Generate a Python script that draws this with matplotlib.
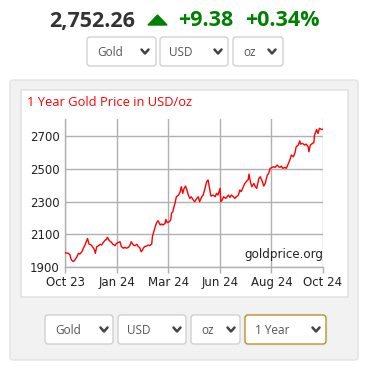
import matplotlib
matplotlib.use("Agg")
import matplotlib.pyplot as plt
from matplotlib.patches import FancyBboxPatch, Polygon
from matplotlib.lines import Line2D
import numpy as np

# ---- data ----
days = [0, 5, 7, 9, 12, 14, 17, 19, 21, 24, 26, 28, 31, 32, 34, 37, 39, 42, 43, 45,
        47, 50, 52, 54, 57, 59, 60, 63, 66, 68, 71, 73, 76, 78, 80, 83, 85, 87, 90, 92,
        94, 97, 99, 102, 104, 106, 108, 110, 111, 113, 116, 118, 120, 123, 124, 126, 128, 130, 132, 135,
        137, 139, 142, 143, 145, 148, 150, 151, 153, 154, 156, 158, 161, 163, 165, 167, 169, 171, 173, 175,
        177, 179, 182, 184, 187, 189, 191, 194, 196, 198, 201, 203, 205, 207, 210, 213, 215, 217, 220, 221,
        223, 225, 228, 230, 232, 234, 236, 239, 241, 243, 246, 248, 250, 253, 255, 257, 260, 261, 263, 265,
        268, 270, 272, 275, 277, 280, 282, 284, 287, 289, 291, 294, 296, 298, 301, 303, 305, 307, 309, 312,
        314, 316, 319, 321, 324, 326, 328, 331, 333, 334, 337, 340, 342, 345, 346, 348, 351, 353, 354, 357,
        359, 361, 364, 366]
price = [1989, 1985, 1975, 1945, 1935, 1945, 1965, 1985, 1981, 1995, 2016, 2032, 2066, 2075, 2042, 2036, 2026, 2005, 1985, 2026,
         2030, 2040, 2036, 2050, 2066, 2070, 2083, 2062, 2052, 2040, 2032, 2046, 2052, 2056, 2026, 2016, 2022, 2016, 2022, 2032,
         2056, 2036, 2032, 2040, 2026, 2020, 1995, 2005, 2016, 2026, 2030, 2036, 2032, 2042, 2087, 2117, 2148, 2172, 2184, 2158,
         2164, 2158, 2168, 2192, 2172, 2178, 2188, 2229, 2239, 2259, 2290, 2330, 2340, 2355, 2391, 2351, 2381, 2395, 2371, 2340,
         2320, 2330, 2310, 2300, 2320, 2330, 2300, 2330, 2340, 2371, 2422, 2432, 2381, 2334, 2340, 2330, 2351, 2340, 2381, 2300,
         2310, 2330, 2320, 2330, 2340, 2326, 2340, 2330, 2320, 2330, 2340, 2371, 2361, 2391, 2411, 2421, 2436, 2468, 2422, 2391,
         2411, 2391, 2381, 2442, 2452, 2422, 2395, 2411, 2462, 2472, 2503, 2509, 2513, 2509, 2523, 2513, 2509, 2517, 2503, 2509,
         2503, 2523, 2554, 2584, 2574, 2594, 2635, 2645, 2671, 2651, 2655, 2645, 2651, 2635, 2604, 2645, 2655, 2659, 2706, 2740,
         2716, 2747, 2740, 2742]
xlabels = ["Oct 23", "Jan 24", "Mar 24", "Jun 24", "Aug 24", "Oct 24"]
yticks = [1900, 2100, 2300, 2500, 2700]
chart_title = "1 Year Gold Price in USD/oz"
last_price = "2,752.26"
change = "+9.38"
change_pct = "+0.34%"
metals = ["Gold", "USD", "oz"]
period = "1 Year"

W, H = 374, 375
fig = plt.figure(figsize=(W / 100, H / 100), dpi=100)
fig.patch.set_facecolor("white")

def fx(x):
    return x / W

def fy(y):
    return 1 - y / H

def box(x0, y0, x1, y1, fc, ec, r=3, lw=1.0, z=0):
    p = FancyBboxPatch((fx(x0), fy(y1)), fx(x1 - x0), (y1 - y0) / H,
                       boxstyle=f"round,pad=0,rounding_size={r / W}",
                       transform=fig.transFigure, facecolor=fc, edgecolor=ec,
                       linewidth=lw, zorder=z)
    fig.add_artist(p)

def chevron(cx, cy, w=7, h=4):
    xs = [fx(cx - w / 2), fx(cx), fx(cx + w / 2)]
    ys = [fy(cy - h / 2), fy(cy + h / 2), fy(cy - h / 2)]
    fig.add_artist(Line2D(xs, ys, transform=fig.transFigure, color="#444444",
                          lw=1.8, solid_capstyle="round", solid_joinstyle="round", zorder=5))

def dropdown(x0, x1, y0, y1, label, tx, chx, ec="#cccccc", glow=False):
    if glow:
        box(x0 - 2, y0 - 2, x1 + 2, y1 + 2, "#e6f0fa", "none", r=4, z=1)
    box(x0, y0, x1, y1, "white", ec, r=3, lw=0.9, z=2)
    fig.text(fx(tx), fy((y0 + y1) / 2 + 0.5), label, family="Open Sans", fontsize=8.5,
             color="#555555", ha="left", va="center", zorder=5)
    chevron(chx, (y0 + y1) / 2)

# ---- header ----
hy = 21
fig.text(fx(49), fy(hy), last_price, family="Open Sans", weight="bold", fontsize=15.5,
         color="#333333", ha="left", va="center")
fig.add_artist(Polygon([[fx(148), fy(25)], [fx(167), fy(25)], [fx(157.5), fy(15)]],
                       closed=True, transform=fig.transFigure, color="#008000"))
fig.text(fx(178), fy(hy), change, family="Open Sans", weight="bold", fontsize=15.5,
         color="#008000", ha="left", va="center")
fig.text(fx(245), fy(hy), change_pct, family="Open Sans", weight="bold", fontsize=15.5,
         color="#008000", ha="left", va="center")

dropdown(87, 156, 37, 66, metals[0], 97, 145)
dropdown(160, 228, 37, 66, metals[1], 169, 218)
dropdown(233, 283, 37, 66, metals[2], 243, 272)

# ---- panels ----
box(10, 80, 358, 360, "#f2f2f2", "#e2e2e2", r=3, lw=1.0, z=0)
box(21, 90, 348, 297, "white", "#dddddd", r=0, lw=1.0, z=0.5)

fig.text(fx(27), fy(103), chart_title, family="Open Sans", fontsize=9.3,
         color="#ff0000", ha="left", va="center")

# ---- chart ----
ax_l, ax_r, ax_t, ax_b = 65, 323, 119.3, 267.3
ax = fig.add_axes([fx(ax_l), fy(ax_b), fx(ax_r - ax_l), (ax_b - ax_t) / H])
ax.set_facecolor("none")
ax.plot(days, price, color="#ff0000", lw=1.0, zorder=3)
ax.set_xlim(0, days[-1])
ax.set_ylim(1900, 2802)
ax.set_xticks(np.linspace(0, days[-1], len(xlabels)))
ax.set_xticklabels(xlabels)
ax.set_yticks(yticks)
ax.grid(True, color="#b0b0b0", lw=1.0)
for s in ["top", "right"]:
    ax.spines[s].set_visible(False)
for s in ["left", "bottom"]:
    ax.spines[s].set_color("#b0b0b0")
    ax.spines[s].set_linewidth(1.0)
ax.tick_params(axis="both", colors="#b0b0b0", labelcolor="#222222", labelsize=8.5,
               length=4, width=1.0)
ax.tick_params(axis="y", length=0, pad=4)
ax.tick_params(axis="x", pad=2)
ax.text(1.0, 0.045, "goldprice.org", transform=ax.transAxes, ha="right", va="bottom",
        fontsize=8.6, color="#222222", zorder=4)
ax.set_zorder(3)

# ---- bottom dropdowns ----
dropdown(45, 113, 315, 344, metals[0], 55, 104)
dropdown(118, 186, 315, 344, metals[1], 127, 177)
dropdown(191, 240, 315, 344, metals[2], 201, 231)
dropdown(245, 326, 315, 344, period, 255, 316, ec="#b8860b", glow=True)

fig.savefig("out.png", dpi=100)
